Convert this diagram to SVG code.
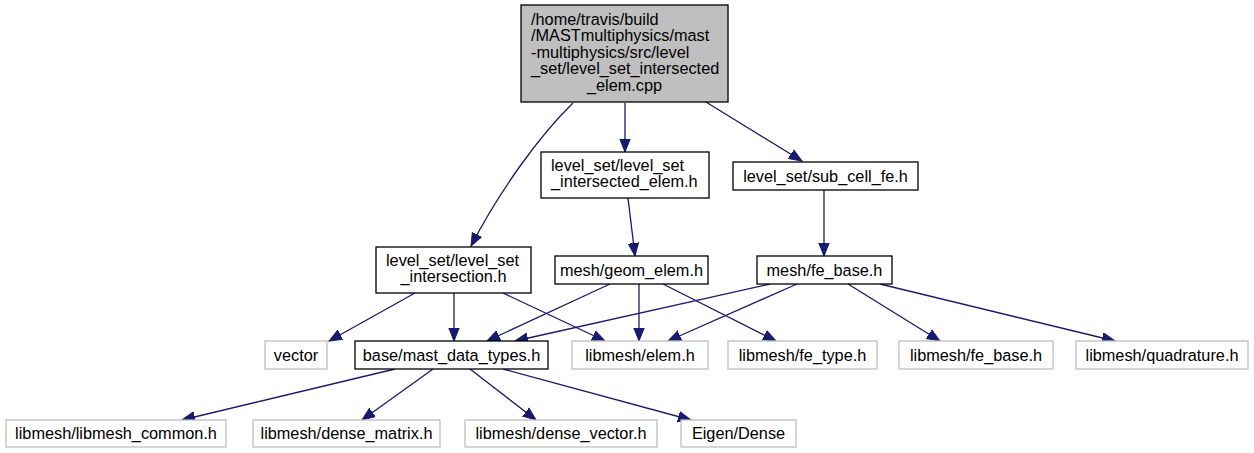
<svg xmlns="http://www.w3.org/2000/svg" width="1254" height="453" viewBox="0 0 1254 453">
<style>
text{font-family:"Liberation Sans",Arial,sans-serif;font-size:16.3px;fill:#000}
.c{text-anchor:middle}
.n rect{fill:#fff;stroke:#000;stroke-width:1.3}
.g rect{fill:#fff;stroke:#bfbfbf;stroke-width:1.3}
.root rect{fill:#bfbfbf;stroke:#000;stroke-width:1.3}
.e path{fill:none;stroke:#191970;stroke-width:1.3;marker-end:url(#a)}
</style>
<defs>
<marker id="a" markerUnits="userSpaceOnUse" markerWidth="14" markerHeight="12" viewBox="0 0 14 12" refX="13" refY="6" orient="auto">
<path d="M0,0.8 L13,6 L0,11.2 Z" fill="#191970" stroke="#191970"/>
</marker>
</defs>
<g id="edges" class="e">
<path d="M573,103 C540,135 500,190 471,246"/>
<path d="M625,103 L625,152"/>
<path d="M706,102 L802,161"/>
<path d="M628,198 L635,256"/>
<path d="M824,190 L824,256"/>
<path d="M415,293 L329,341"/>
<path d="M454,293 L454,341"/>
<path d="M503,293 L605,341"/>
<path d="M610,284 L487,341"/>
<path d="M639,284 L639,341"/>
<path d="M663,284 L776,341"/>
<path d="M770,284 L515,341"/>
<path d="M797,284 L668,341"/>
<path d="M848,284 L940,341"/>
<path d="M880,284 L1115,341"/>
<path d="M395,369 L182,420"/>
<path d="M433,369 L362,420"/>
<path d="M470,369 L536,420"/>
<path d="M503,369 L691,420"/>
</g>
<g id="root" class="root">
<rect x="521" y="5" width="207" height="97"/>
<text x="531" y="24.5">/home/travis/build</text>
<text x="531" y="41">/MASTmultiphysics/mast</text>
<text x="531" y="57.5">-multiphysics/src/level</text>
<text x="531" y="74">_set/level_set_intersected</text>
<text x="624.5" y="90.5" class="c">_elem.cpp</text>
</g>
<g id="intersected_elem_h" class="n">
<rect x="541" y="152" width="168" height="46"/>
<text x="551" y="171">level_set/level_set</text>
<text x="551" y="187">_intersected_elem.h</text>
</g>
<g id="sub_cell_fe_h" class="n">
<rect x="733" y="162" width="185" height="28"/>
<text x="825.5" y="181.5" class="c">level_set/sub_cell_fe.h</text>
</g>
<g id="intersection_h" class="n">
<rect x="376" y="247" width="155" height="46"/>
<text x="386" y="266">level_set/level_set</text>
<text x="453.5" y="282" class="c">_intersection.h</text>
</g>
<g id="geom_elem_h" class="n">
<rect x="555" y="256" width="153" height="28"/>
<text x="631.5" y="275.5" class="c">mesh/geom_elem.h</text>
</g>
<g id="mesh_fe_base_h" class="n">
<rect x="757" y="256" width="135" height="28"/>
<text x="824.5" y="275.5" class="c">mesh/fe_base.h</text>
</g>
<g id="vector" class="g">
<rect x="265" y="341" width="62" height="28"/>
<text x="296" y="360.5" class="c">vector</text>
</g>
<g id="mast_data_types_h" class="n">
<rect x="355" y="341" width="193" height="28"/>
<text x="451.5" y="360.5" class="c">base/mast_data_types.h</text>
</g>
<g id="libmesh_elem_h" class="g">
<rect x="572" y="341" width="136" height="28"/>
<text x="640" y="360.5" class="c">libmesh/elem.h</text>
</g>
<g id="libmesh_fe_type_h" class="g">
<rect x="728" y="341" width="149" height="28"/>
<text x="802.5" y="360.5" class="c">libmesh/fe_type.h</text>
</g>
<g id="libmesh_fe_base_h" class="g">
<rect x="899" y="341" width="154" height="28"/>
<text x="976" y="360.5" class="c">libmesh/fe_base.h</text>
</g>
<g id="libmesh_quadrature_h" class="g">
<rect x="1076" y="341" width="172" height="28"/>
<text x="1162" y="360.5" class="c">libmesh/quadrature.h</text>
</g>
<g id="libmesh_common_h" class="g">
<rect x="6" y="420" width="220" height="27"/>
<text x="116" y="439" class="c">libmesh/libmesh_common.h</text>
</g>
<g id="dense_matrix_h" class="g">
<rect x="253" y="420" width="187" height="27"/>
<text x="346.5" y="439" class="c">libmesh/dense_matrix.h</text>
</g>
<g id="dense_vector_h" class="g">
<rect x="465" y="420" width="192" height="27"/>
<text x="561" y="439" class="c">libmesh/dense_vector.h</text>
</g>
<g id="eigen_dense" class="g">
<rect x="681" y="420" width="115" height="27"/>
<text x="738.5" y="439" class="c">Eigen/Dense</text>
</g>
</svg>
